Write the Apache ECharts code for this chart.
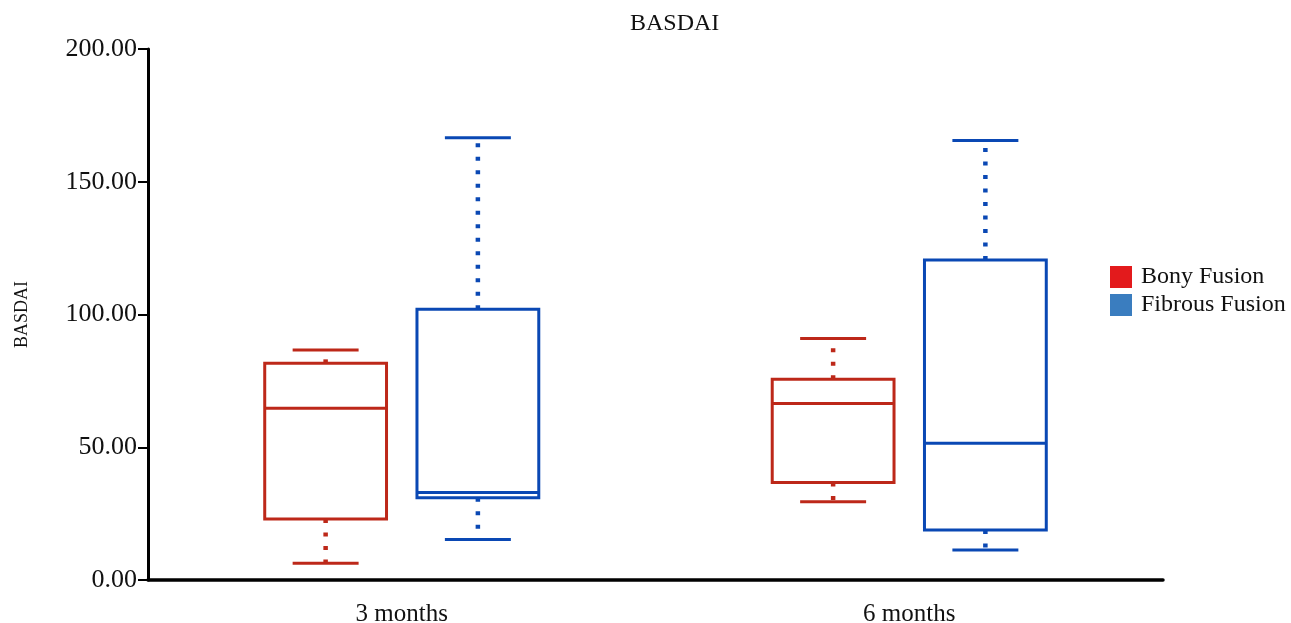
<!DOCTYPE html>
<html>
<head>
<meta charset="utf-8">
<title>BASDAI</title>
<script src="https://cdn.jsdelivr.net/npm/echarts@6/dist/echarts.min.js"></script>
<style>
  html, body { margin: 0; padding: 0; background: #ffffff; }
  #chart { width: 1291px; height: 623px; }
</style>
</head>
<body>
<div id="chart"></div>
<script>
// Time points on the x axis
const categories = ['3 months', '6 months'];
// Five-number summaries per time point: [min, Q1, median, Q3, max]
const bonyFusion = [
  [6.3, 23.0, 64.7, 81.6, 86.6],
  [29.5, 36.7, 66.5, 75.6, 91.0]
];
const fibrousFusion = [
  [15.3, 31.0, 33.0, 102.0, 166.6],
  [11.3, 18.8, 51.5, 120.5, 165.5]
];
const yTicks = [0, 50, 100, 150, 200];
const groupNames = ['Bony Fusion', 'Fibrous Fusion'];

const FONT = '"Liberation Serif", "DejaVu Serif", serif';
const BOX_RED = '#bd2819';
const BOX_BLUE = '#0a48b4';
const KEY_RED = '#e31a1c';
const KEY_BLUE = '#3a7dbf';

// Draws one box with dotted whiskers, shifted inside the category band
function boxRenderer(offsetFrac, color) {
  return function (params, api) {
    const cat = api.value(0);
    const lo = api.value(1), q1 = api.value(2), med = api.value(3),
          q3 = api.value(4), hi = api.value(5);
    const band = api.size([1, 0])[0];
    const cx = api.coord([cat, 0])[0] + offsetFrac * band;
    const y = v => api.coord([cat, v])[1];
    const bw = band * 0.24;
    const cw = band * 0.13;
    const solid = { stroke: color, lineWidth: 3, fill: null };
    const dotted = { stroke: color, lineWidth: 4.5, lineDash: [4, 9.5], fill: null };
    return {
      type: 'group',
      children: [
        { type: 'line', shape: { x1: cx, y1: y(q3), x2: cx, y2: y(hi) }, style: dotted },
        { type: 'line', shape: { x1: cx, y1: y(q1), x2: cx, y2: y(lo) }, style: dotted },
        { type: 'line', shape: { x1: cx - cw / 2, y1: y(hi), x2: cx + cw / 2, y2: y(hi) }, style: solid },
        { type: 'line', shape: { x1: cx - cw / 2, y1: y(lo), x2: cx + cw / 2, y2: y(lo) }, style: solid },
        { type: 'rect', shape: { x: cx - bw / 2, y: y(q3), width: bw, height: y(q1) - y(q3) },
          style: { stroke: color, lineWidth: 3, fill: '#ffffff' } },
        { type: 'line', shape: { x1: cx - bw / 2, y1: y(med), x2: cx + bw / 2, y2: y(med) }, style: solid }
      ]
    };
  };
}

function toRows(stats) {
  return stats.map((s, i) => [i].concat(s));
}

const chart = echarts.init(document.getElementById('chart'), null, { renderer: 'canvas' });

chart.setOption({
  backgroundColor: '#ffffff',
  animation: false,
  title: {
    text: 'BASDAI',
    left: 630,
    top: 12,
    padding: 0,
    textStyle: { fontFamily: FONT, fontSize: 24, fontWeight: 'normal', color: '#111' }
  },
  legend: {
    orient: 'vertical',
    left: 1110,
    top: 265,
    padding: 0,
    icon: 'rect',
    itemWidth: 22,
    itemHeight: 22,
    itemGap: 4,
    textStyle: { fontFamily: FONT, fontSize: 24, color: '#111', padding: [0, 0, 0, 4] },
    data: [
      { name: groupNames[0], itemStyle: { color: KEY_RED } },
      { name: groupNames[1], itemStyle: { color: KEY_BLUE } }
    ]
  },
  grid: { left: 148, right: 128, top: 49, bottom: 43, outerBoundsMode: 'none', containLabel: false },
  xAxis: {
    type: 'category',
    data: categories,
    boundaryGap: true,
    axisLine: { lineStyle: { color: '#000', width: 3.5 } },
    axisTick: { alignWithLabel: true, length: 6, lineStyle: { color: '#333', width: 1.5 } },
    axisLabel: { fontFamily: FONT, fontSize: 25, color: '#111', margin: 22 }
  },
  yAxis: {
    type: 'value',
    min: yTicks[0],
    max: yTicks[yTicks.length - 1],
    interval: yTicks[1] - yTicks[0],
    name: 'BASDAI',
    nameLocation: 'middle',
    nameGap: 117,
    nameRotate: 90,
    nameTextStyle: { fontFamily: FONT, fontSize: 18, color: '#111' },
    splitLine: { show: false },
    axisLine: { show: true, lineStyle: { color: '#000', width: 3 } },
    axisTick: { show: true, length: 10, lineStyle: { color: '#000', width: 2 } },
    axisLabel: {
      fontFamily: FONT, fontSize: 26, color: '#111', margin: 11,
      formatter: v => v.toFixed(2)
    }
  },
  series: [
    {
      name: groupNames[0],
      type: 'custom',
      itemStyle: { color: KEY_RED },
      renderItem: boxRenderer(-0.15, BOX_RED),
      encode: { x: 0, y: [1, 2, 3, 4, 5] },
      data: toRows(bonyFusion)
    },
    {
      name: groupNames[1],
      type: 'custom',
      itemStyle: { color: KEY_BLUE },
      renderItem: boxRenderer(0.15, BOX_BLUE),
      encode: { x: 0, y: [1, 2, 3, 4, 5] },
      data: toRows(fibrousFusion)
    }
  ]
});
</script>
</body>
</html>
